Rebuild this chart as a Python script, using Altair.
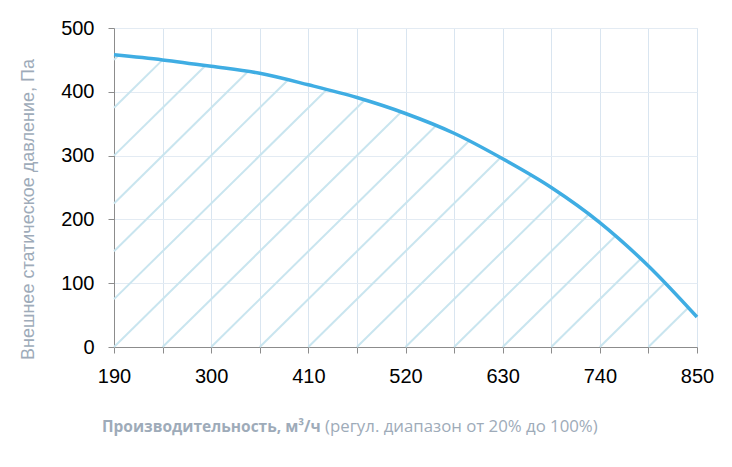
import altair as alt
import pandas as pd
import numpy as np

# --- data ---
flow = [190, 245, 300, 355, 410, 465, 520, 575, 630, 685, 740, 795, 850]
pressure = [458, 450, 440, 429, 411, 391, 366, 335, 295, 250, 195, 127, 47]

x_ticks = [190, 245, 300, 355, 410, 465, 520, 575, 630, 685, 740, 795, 850]
x_labels = [190, 300, 410, 520, 630, 740, 850]
y_ticks = [0, 100, 200, 300, 400, 500]

hatch_step_x = 55   # hatch lines start at every x tick
hatch_rise = 75     # rise of a hatch line per 55 units of flow

title_bold = "Производительность, м³/ч"
title_normal = "(регул. диапазон от 20% до 100%)"
y_title = "Внешнее статическое давление, Па"

# --- hatch segments, clipped below the curve ---
fx = np.array(flow, dtype=float)
fy = np.array(pressure, dtype=float)
slope = hatch_rise / hatch_step_x
segs = []
for x0 in np.arange(190 - hatch_step_x * 8, 851, hatch_step_x):
    xs0 = max(190.0, x0)
    ys0 = (xs0 - x0) * slope
    if ys0 >= np.interp(xs0, fx, fy):
        continue
    xs = np.linspace(xs0, 850, 3000)
    diff = (xs - x0) * slope - np.interp(xs, fx, fy)
    idx = np.where(diff >= 0)[0]
    xe = xs[idx[0]] if len(idx) else 850.0
    ye = (xe - x0) * slope
    segs.append({"x": xs0, "y": ys0, "x2": xe, "y2": ye})
hatch_df = pd.DataFrame(segs)
curve_df = pd.DataFrame({"flow": flow, "pressure": pressure})

label_font = "Liberation Sans Narrow, Liberation Sans, Arial"
title_color = "#9eabb9"

x_scale = alt.Scale(domain=[190, 850], nice=False, zero=False)
y_scale = alt.Scale(domain=[0, 500], nice=False)

x_axis = alt.Axis(
    values=x_ticks,
    labelExpr="indexof(" + str(x_labels) + ", datum.value) >= 0 ? datum.label : ''",
    title=None, grid=True, gridColor="#d9e5f0", gridWidth=1,
    domainColor="#8c8c8c", tickColor="#8c8c8c", tickSize=6,
    labelFont=label_font, labelFontSize=20, labelColor="#000000",
    labelPadding=13, labelFlush=False,
)
y_axis = alt.Axis(
    values=y_ticks, title=y_title, grid=True, gridColor="#e3ebf3", gridWidth=1,
    domainColor="#8c8c8c", tickColor="#8c8c8c", tickSize=6,
    labelFont=label_font, labelFontSize=20, labelColor="#000000",
    labelPadding=14,
    titleFont="Liberation Sans, Arial", titleFontSize=18, titleFontWeight="normal",
    titleColor=title_color, titleX=-86, titleY=181, titleBaseline="middle",
    titleAlign="center",
)

hatch = alt.Chart(hatch_df).mark_rule(color="#c9e5ef", strokeWidth=2).encode(
    x=alt.X("x:Q", scale=x_scale, axis=x_axis),
    y=alt.Y("y:Q", scale=y_scale, axis=y_axis),
    x2="x2:Q",
    y2="y2:Q",
)

curve = alt.Chart(curve_df).mark_line(
    color="#3fade3", strokeWidth=3.5, interpolate="monotone"
).encode(
    x=alt.X("flow:Q", scale=x_scale),
    y=alt.Y("pressure:Q", scale=y_scale),
)

t1 = alt.Chart(pd.DataFrame({"t": [title_bold]})).mark_text(
    align="left", baseline="middle", font="Open Sans", fontSize=15.5,
    fontWeight="bold", color=title_color,
).encode(text="t:N", x=alt.value(-12), y=alt.value(399))

t2 = alt.Chart(pd.DataFrame({"t": [title_normal]})).mark_text(
    align="left", baseline="middle", font="Open Sans", fontSize=16.8,
    fontWeight="normal", color=title_color,
).encode(text="t:N", x=alt.value(211), y=alt.value(399))

chart = alt.layer(hatch, curve, t1, t2).properties(
    width=583, height=319,
    autosize=alt.AutoSizeParams(type="none"),
    padding={"left": 106, "top": 20, "right": 27, "bottom": 112},
).configure_view(stroke=None).configure(background="white")

chart.save("out.html", embed_options={"renderer": "svg", "actions": False})
